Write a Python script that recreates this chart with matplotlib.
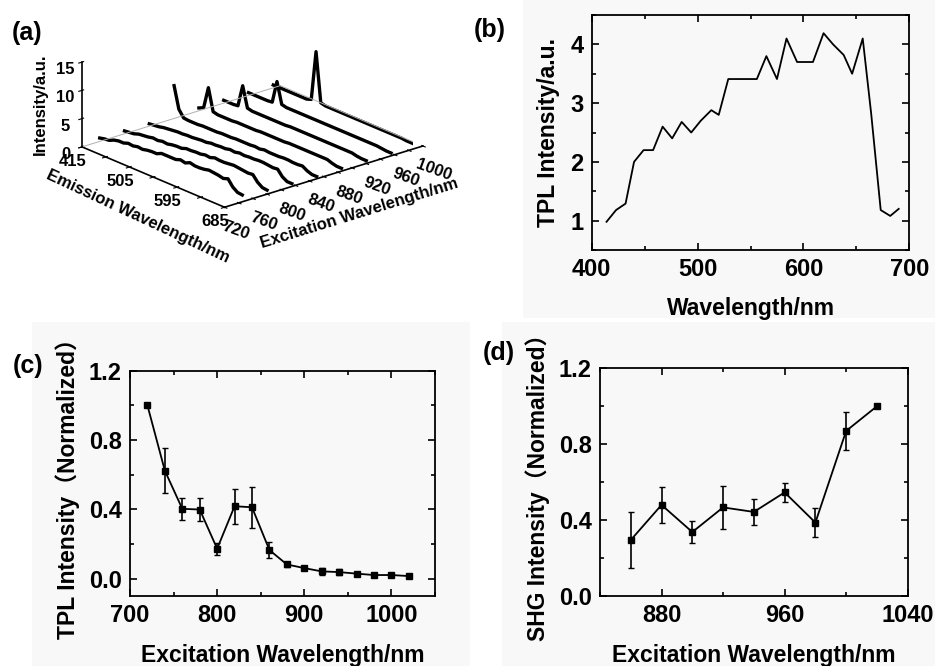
#!/usr/bin/env python3

import matplotlib
matplotlib.use('Agg')
from matplotlib import pyplot as plt
from matplotlib.patches import Rectangle
from matplotlib.ticker import MultipleLocator

plt.rcParams['font.family'] = ['Liberation Sans', 'Noto Sans CJK SC', 'DejaVu Sans']
plt.rcParams['font.weight'] = 'bold'
plt.rcParams['axes.labelweight'] = 'bold'

# ---- (a) waterfall: emission spectra at several excitation wavelengths ----
em_wl = [415, 424, 433, 442, 451, 460, 469, 478, 487, 496, 505, 514, 523, 532, 541, 550,
         559, 568, 577, 586, 595, 604, 613, 622, 631, 640, 649, 658, 667, 676, 685]
exc_pos = [745, 780, 815, 850, 885, 920, 955, 990]
spec_1 = [0.6, 0.8, 0.9, 1.3, 1.5, 1.5, 1.8, 1.7, 1.9, 1.8, 2.0, 2.1, 2.1, 2.5, 2.5, 2.5,
          2.5, 2.8, 2.6, 3.0, 2.8, 2.8, 2.9, 3.1, 3.0, 2.9, 2.7, 3.0, 1.9, 1.3, 1.2]
spec_2 = [0.5, 0.6, 0.7, 1.0, 1.1, 1.2, 1.4, 1.3, 1.5, 1.4, 1.6, 1.7, 1.7, 2.0, 2.0, 2.1,
          2.1, 2.3, 2.2, 2.5, 2.4, 2.4, 2.5, 2.6, 2.5, 2.4, 2.3, 2.4, 1.4, 0.8, 0.7]
spec_3 = [0.4, 0.5, 0.6, 0.8, 0.9, 1.0, 1.1, 1.1, 1.2, 1.2, 1.3, 1.4, 1.4, 1.6, 1.6, 1.7,
          1.7, 1.9, 1.8, 2.0, 1.9, 2.0, 2.0, 2.1, 2.1, 2.0, 1.9, 2.0, 1.0, 0.5, 0.5]
spec_4 = [5.8, 2.0, 0.8, 0.7, 0.7, 0.7, 0.8, 0.8, 0.8, 0.8, 0.9, 0.9, 0.9, 1.0, 1.0, 1.0,
          1.0, 1.1, 1.0, 1.2, 1.1, 1.1, 1.1, 1.2, 1.2, 1.1, 1.1, 1.2, 0.7, 0.4, 0.4]
spec_5 = [0.5, 0.9, 4.8, 0.9, 0.7, 0.7, 0.7, 0.7, 0.8, 0.8, 0.8, 0.8, 0.8, 0.9, 0.9, 0.9,
          0.9, 0.9, 0.9, 1.0, 1.0, 1.0, 1.0, 1.0, 1.0, 1.0, 1.0, 1.0, 0.7, 0.5, 0.5]
spec_6 = [0.5, 0.5, 0.5, 0.6, 4.5, 0.9, 0.7, 0.7, 0.7, 0.7, 0.7, 0.7, 0.7, 0.7, 0.8, 0.8,
          0.8, 0.8, 0.8, 0.8, 0.8, 0.8, 0.8, 0.8, 0.8, 0.8, 0.8, 0.8, 0.6, 0.5, 0.5]
spec_7 = [0.5, 0.5, 0.5, 0.5, 0.5, 0.6, 4.6, 0.9, 0.7, 0.7, 0.7, 0.7, 0.7, 0.7, 0.7, 0.7,
          0.7, 0.7, 0.7, 0.7, 0.7, 0.7, 0.7, 0.7, 0.7, 0.7, 0.7, 0.7, 0.6, 0.5, 0.5]
spec_8 = [0.5, 0.5, 0.5, 0.5, 0.5, 0.5, 0.5, 0.5, 0.8, 9.6, 0.9, 0.7, 0.7, 0.7, 0.7, 0.7,
          0.7, 0.7, 0.7, 0.7, 0.7, 0.7, 0.7, 0.7, 0.7, 0.7, 0.7, 0.7, 0.6, 0.6, 0.6]
spectra = [spec_1, spec_2, spec_3, spec_4, spec_5, spec_6, spec_7, spec_8]

# ---- (b) TPL spectrum ----
tpl_wl = [414, 423, 432, 440, 449, 458, 467, 476, 485, 494, 503, 513, 520, 529, 538, 547,
          556, 565, 575, 584, 594, 601, 609, 619, 628, 638, 646, 656, 664, 673, 682, 690]
tpl_int = [0.98, 1.18, 1.29, 2.0, 2.2, 2.2, 2.6, 2.4, 2.68, 2.5, 2.7, 2.88, 2.8, 3.41, 3.41, 3.41,
           3.41, 3.8, 3.41, 4.1, 3.7, 3.7, 3.7, 4.19, 4.0, 3.82, 3.5, 4.1, 2.82, 1.18, 1.08, 1.2]

# ---- (c) TPL vs excitation ----
c_exc = [720, 740, 760, 780, 800, 820, 840, 860, 880, 900, 920, 940, 960, 980, 1000, 1020]
c_val = [1.0, 0.623, 0.403, 0.399, 0.173, 0.418, 0.412, 0.165, 0.082, 0.061, 0.042, 0.038,
         0.029, 0.021, 0.021, 0.015]
c_err = [0.0, 0.13, 0.065, 0.065, 0.035, 0.10, 0.117, 0.047, 0.015, 0.012, 0.018, 0.015,
         0.01, 0.008, 0.008, 0.008]

# ---- (d) SHG vs excitation ----
d_exc = [860, 880, 900, 920, 940, 960, 980, 1000, 1020]
d_val = [0.295, 0.48, 0.337, 0.467, 0.443, 0.546, 0.387, 0.87, 1.0]
d_err = [0.15, 0.093, 0.06, 0.115, 0.067, 0.052, 0.075, 0.10, 0.0]

W, H = 935, 666
fig = plt.figure(figsize=(W / 100, H / 100), dpi=100)
fig.patch.set_facecolor('white')

# faint grey panel backgrounds of the original composite
for x0, y0, x1, y1 in [(523, 0, 935, 318), (32, 322, 470, 666), (502, 322, 935, 666)]:
    fig.patches.append(Rectangle((x0 / W, 1 - y1 / H), (x1 - x0) / W, (y1 - y0) / H,
                                 transform=fig.transFigure, facecolor='#f8f8f8',
                                 edgecolor='none', zorder=-10))


def px_axes(left, top, right, bottom):
    return [left / W, 1 - bottom / H, (right - left) / W, (bottom - top) / H]


def style_2d(ax):
    ax.set_facecolor('none')
    ax.tick_params(which='both', direction='in', top=True, right=True, width=1.2,
                   labelsize=17, pad=6)
    ax.tick_params(which='major', length=5)
    ax.tick_params(which='minor', length=3)
    for s in ax.spines.values():
        s.set_linewidth(1.3)


# (a)
S = 330
cx, cy = 248, 108.5
ax = fig.add_axes(px_axes(cx - S / 2, cy - S / 2, cx + S / 2, cy + S / 2),
                  projection='3d', proj_type='ortho')
ax.set_facecolor('none')
ax.view_init(elev=21.2, azim=-40.5)
ax.set_box_aspect((2.39, 2.84, 0.99), zoom=1.038)
for i, spec in enumerate(spectra):
    ax.plot(em_wl, [exc_pos[i]] * len(em_wl), spec, color='black', lw=2.4)
ax.set_xlim(415, 685)
ax.set_ylim(720, 1000)
ax.set_zlim(0, 15)
ax.plot([415, 415], [720, 1000], [0, 0], color='#b0b0b0', lw=0.7)
ax.plot([415, 685], [1000, 1000], [0, 0], color='#b0b0b0', lw=0.7)
ax.set_xticks([415, 460, 505, 550, 595, 640, 685])
ax.set_xticklabels(['415', '', '505', '', '595', '', '685'])
ax.set_yticks(list(range(720, 1001, 20)))
ax.set_yticklabels([str(v) if v % 40 == 0 else '' for v in range(720, 1001, 20)])
ax.set_zticks([0, 5, 10, 15])
ax.zaxis.set_ticks_position('lower')
ax.zaxis.set_label_position('lower')
ax.grid(False)
for axis in (ax.xaxis, ax.yaxis, ax.zaxis):
    axis.set_pane_color((1, 1, 1, 0))
    axis.pane.set_edgecolor((1, 1, 1, 0))
    axis.line.set_color('black')
    axis.line.set_linewidth(1.2)
ax.tick_params(labelsize=12, pad=0)
ax.tick_params(axis='x', pad=-2)
ax.tick_params(axis='y', pad=1.5)
ax.tick_params(axis='z', pad=-2)
for t in ax.get_yticklabels():
    t.set_rotation(-20)
ax.set_ylabel('Excitation Wavelength/nm', fontsize=12, labelpad=10)
ax.set_zlabel('Intensity/a.u.', fontsize=12, labelpad=-6)
fig.text(138 / W, 1 - 216 / H, 'Emission Wavelength/nm', fontsize=12, fontweight='bold',
         rotation=-25, ha='center', va='center', rotation_mode='anchor')
fig.text(12 / W, 1 - 40 / H, '(a)', fontsize=18, fontweight='bold')

# (b)
ax = fig.add_axes(px_axes(591.7, 15, 909.3, 250))
ax.plot(tpl_wl, tpl_int, color='black', lw=1.3)
ax.set_xlim(400, 700)
ax.set_ylim(0.5, 4.5)
ax.xaxis.set_major_locator(MultipleLocator(100))
ax.xaxis.set_minor_locator(MultipleLocator(50))
ax.yaxis.set_major_locator(MultipleLocator(1))
ax.yaxis.set_minor_locator(MultipleLocator(0.5))
style_2d(ax)
ax.set_xlabel('Wavelength/nm', fontsize=16.5, labelpad=11)
ax.set_ylabel('TPL Intensity/a.u.', fontsize=16.5, labelpad=7)
fig.text(474 / W, 1 - 37 / H, '(b)', fontsize=18, fontweight='bold')

# (c)
ax = fig.add_axes(px_axes(130, 370.7, 435, 596))
ax.errorbar(c_exc, c_val, yerr=c_err, color='black', lw=1.3, marker='s', ms=4,
            capsize=2.5, elinewidth=1.2)
ax.set_xlim(700, 1050)
ax.set_ylim(-0.1, 1.2)
ax.xaxis.set_major_locator(MultipleLocator(100))
ax.xaxis.set_minor_locator(MultipleLocator(50))
ax.yaxis.set_major_locator(MultipleLocator(0.4))
ax.yaxis.set_minor_locator(MultipleLocator(0.2))
ax.yaxis.set_major_formatter(lambda v, p: f'{v:.1f}')
style_2d(ax)
ax.set_xlabel('Excitation Wavelength/nm', fontsize=16.5, labelpad=12)
ax.set_ylabel('TPL Intensity（Normalized）', fontsize=16.5, labelpad=6)
fig.text(13 / W, 1 - 373 / H, '(c)', fontsize=18, fontweight='bold')

# (d)
ax = fig.add_axes(px_axes(600, 368.3, 907.7, 596))
ax.errorbar(d_exc, d_val, yerr=d_err, color='black', lw=1.3, marker='s', ms=4,
            capsize=2.5, elinewidth=1.2)
ax.set_xlim(840, 1040)
ax.set_ylim(0.0, 1.2)
ax.xaxis.set_major_locator(MultipleLocator(80))
ax.xaxis.set_minor_locator(MultipleLocator(40))
ax.yaxis.set_major_locator(MultipleLocator(0.4))
ax.yaxis.set_minor_locator(MultipleLocator(0.2))
ax.yaxis.set_major_formatter(lambda v, p: f'{v:.1f}')
ax.set_xticks([880, 960, 1040])
style_2d(ax)
ax.set_xlabel('Excitation Wavelength/nm', fontsize=16.5, labelpad=12)
ax.set_ylabel('SHG Intensity（Normalized）', fontsize=16.5, labelpad=6)
fig.text(483 / W, 1 - 360 / H, '(d)', fontsize=18, fontweight='bold')

plt.savefig('out.png', dpi=100)
